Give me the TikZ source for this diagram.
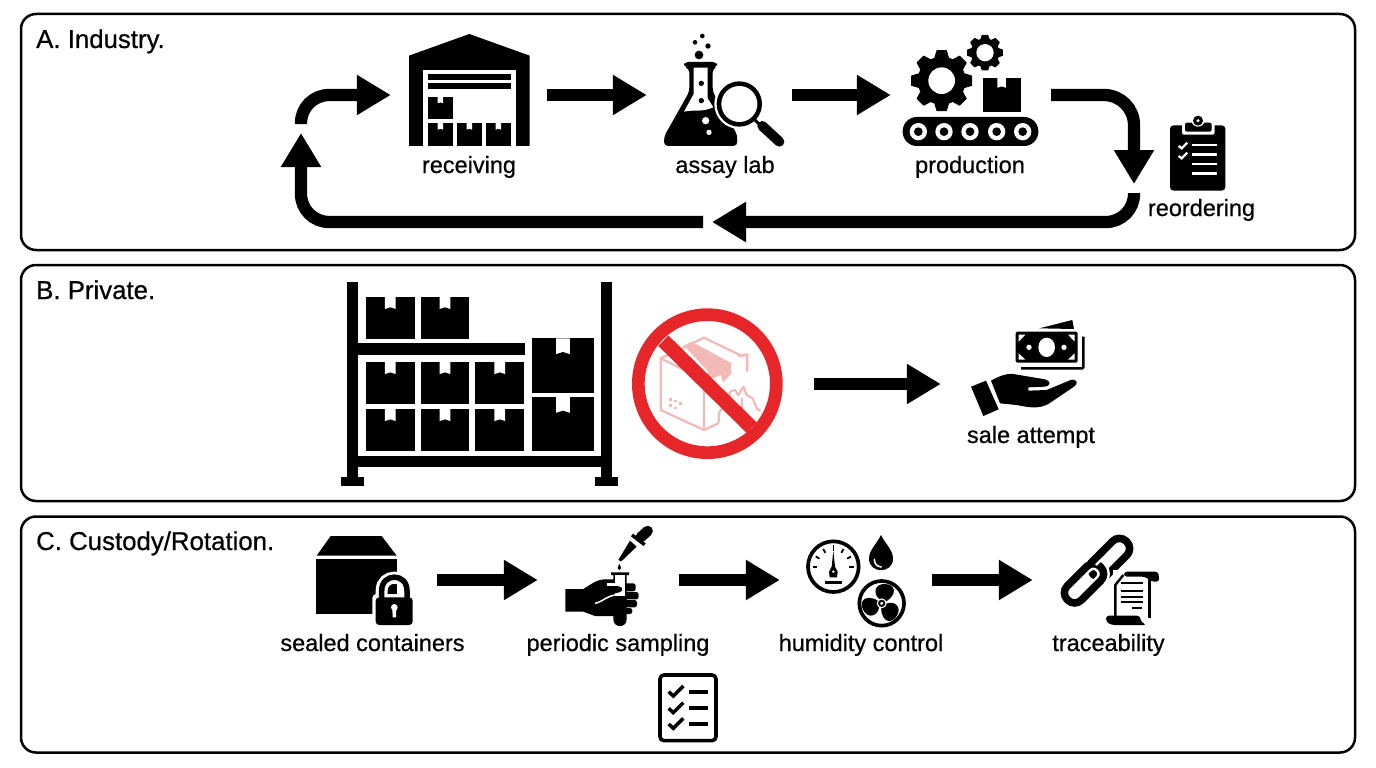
\documentclass[tikz,border=0pt]{standalone}
\usepackage{fontspec}
\setmainfont{Liberation Sans}[FakeBold=0.6]
\usetikzlibrary{arrows.meta}
\definecolor{ringred}{HTML}{E62628}
\definecolor{fadedbox}{HTML}{F3B9B6}
\tikzset{
  panel/.style={draw=black,line width=2.5pt,rounded corners=15pt,minimum width=1334pt,minimum height=236pt,inner sep=0pt},
  slot/.style={inner sep=0pt,minimum height=10pt},
  flow/.style={line width=12.3pt,-{Triangle[length=34pt,width=38pt]}},
  lbl/.style={anchor=base,inner sep=0pt,font=\fontsize{23.5}{27}\selectfont},
  ttl/.style={anchor=base west,inner sep=0pt,font=\fontsize{25.8}{28}\selectfont},
  zm/.style 2 args={x=.33333pt,y=-.33333pt,shift={(#1pt,-#2pt)}}
}
\newcommand\cartonbox[4]{%
  \pgfmathsetmacro\cbw{#3-#1}\pgfmathsetmacro\cbh{#4-#2}%
  \fill (#1,#2) rectangle (#3,#4);
  \fill[white] ({#1+.39*\cbw},#2) -- ({#1+.39*\cbw},{#2+.29*\cbh}) -- ({#1+.5*\cbw},{#2+.25*\cbh}) -- ({#1+.61*\cbw},{#2+.29*\cbh}) -- ({#1+.61*\cbw},#2) -- cycle;
}
\newcommand\gearic[5]{%
  \fill (#1,#2) circle[radius=#4];
  \foreach \a in {0,45,...,315}{
    \fill[shift={(#1,#2)},rotate=\a,line join=round,draw=black,line width=1pt]
      ({-.22*#3},{-#4*.95}) -- ({-.15*#3},{-#3+3}) -- ({.15*#3},{-#3+3}) -- ({.22*#3},{-#4*.95}) -- cycle;
  }
  \fill[white] (#1,#2) circle[radius=#5];
}
\begin{document}
\begin{tikzpicture}[x=1pt,y=-1pt]
\useasboundingbox (0,0) rectangle (1376,768);
\fill[white] (0,0) rectangle (1376,768);

% panels
\node[panel] (pA) at (688,132) {};
\node[panel] (pB) at (688,383) {};
\node[panel] (pC) at (688,634.5) {};
\node[ttl] (tA) at (36,48) {A. Industry.};
\node[ttl] (tB) at (36,299) {B. Private.};
\node[ttl] (tC) at (36,550) {C. Custody/Rotation.};

% anchor slots for the connectors
\node[slot,minimum width=156pt] (recv) at (469,95) {};
\node[slot,minimum width=145pt] (assay) at (719.5,95) {};
\node[slot,minimum width=160pt] (prod) at (971,95) {};
\node[slot,minimum width=214pt] (nosale) at (707,384) {};
\node[slot,minimum width=178pt] (sale) at (1030,384) {};
\node[slot,minimum width=148pt] (sealed) at (363,580) {};
\node[slot,minimum width=141pt] (sampl) at (608.5,580) {};
\node[slot,minimum width=152pt] (humid) at (856,580) {};
\node[slot,minimum width=150pt] (trace) at (1108,580) {};
\coordinate (bendA) at (1134,95);
\coordinate (reordIn) at (1134,184);
\coordinate (reordOut) at (1134,193);
\coordinate (bendB) at (1134,222);
\coordinate (midTip) at (712,222);
\coordinate (midTail) at (703,222);
\coordinate (bendC) at (301,222);
\coordinate (upTip) at (301,133);
\coordinate (upTail) at (301,124);
\coordinate (bendD) at (301,95);

% connectors
\draw[flow] (recv.east) -- (assay.west);
\draw[flow] (assay.east) -- (prod.west);
\draw[flow,rounded corners=30pt] (prod.east) -- (bendA) -- (reordIn);
\draw[flow,rounded corners=28pt] (reordOut) -- (bendB) -- (midTip);
\draw[flow,rounded corners=28pt] (midTail) -- (bendC) -- (upTip);
\draw[flow,rounded corners=28pt] (upTail) -- (bendD) -- (recv.west);
\draw[flow] (nosale.east) -- (sale.west);
\draw[flow] (sealed.east) -- (sampl.west);
\draw[flow] (sampl.east) -- (humid.west);
\draw[flow] (humid.east) -- (trace.west);

% labels
\node[lbl] (lrecv) at (469,173) {receiving};
\node[lbl] (lassay) at (725,173) {assay lab};
\node[lbl] (lprod) at (970,173) {production};
\node[lbl] (lreord) at (1201.5,216) {reordering};
\node[lbl] (lsale) at (1031,443) {sale attempt};
\node[lbl] (lseal) at (372.5,651) {sealed containers};
\node[lbl] (lsamp) at (618,651) {periodic sampling};
\node[lbl] (lhum) at (861,651) {humidity control};
\node[lbl] (ltrace) at (1108.5,651) {traceability};

% warehouse + flask + magnifier
\begin{scope}[zm={280}{20}]
  \fill (387,107) -- (568,42) -- (749,107) -- (749,378) -- (387,378) -- cycle;
  \fill[white] (429,150) rectangle (707,378);
  \fill (443,163) rectangle (693,179);
  \fill (443,190) rectangle (693,207);
  \cartonbox{443}{230}{519}{298}
  \cartonbox{443}{309}{519}{378}
  \cartonbox{530}{309}{606}{378}
  \cartonbox{617}{309}{693}{378}
  % flask
  \fill[rounded corners=4pt] (1212,126) -- (1311,126) -- (1311,140) -- (1298,146) -- (1298,215) -- (1372,345) -- (1372,378) -- (1152,378) -- (1152,350) -- (1228,215) -- (1228,146) -- (1212,140) -- cycle;
  \fill[white] (1241,143) -- (1283,143) -- (1283,235) -- (1300,262) .. controls (1265,278) and (1240,268) .. (1212,275) -- (1241,222) -- cycle;
  \fill (1264,190) circle[radius=8];
  \fill (1264,242) circle[radius=8];
  \fill[white] (1277,302) circle[radius=11];
  \fill[white] (1287,337) circle[radius=8];
  \fill (1257,105) circle[radius=13];
  \fill (1267,48) circle[radius=7];
  \fill (1245,67) circle[radius=7];
  \fill (1284,78) circle[radius=8];
  % magnifier
  \fill[white] (1378,252) circle[radius=75];
  \fill[white] (1378,252) -- (1460,345) -- (1430,378) -- (1372,378) -- cycle;
  \fill (1378,252) circle[radius=68];
  \fill[white] (1378,252) circle[radius=54];
  \draw[line width=3pt] (1425,300) -- (1445,320);
  \draw[line width=10pt,line cap=round] (1447,318) -- (1498,365);
\end{scope}

% gears, conveyor, clipboard
\begin{scope}[zm={780}{20}]
  \gearic{485}{182}{93}{72}{40}
  \gearic{615}{98}{55}{43}{26}
  \cartonbox{608}{173}{722}{277}
  \fill[rounded corners=14.2pt] (368,291) rectangle (775,378);
  \foreach \cx in {415,492,570,650,728}{
    \fill[white] (\cx,335) circle[radius=26];
    \fill (\cx,335) circle[radius=13];
  }
  \fill[rounded corners=3.5pt] (1170,316) rectangle (1336,512);
  \fill[white,rounded corners=2pt] (1206,298) rectangle (1304,344);
  \fill[rounded corners=2pt] (1215,308) rectangle (1295,335);
  \fill[white] (1254,300) circle[radius=20];
  \fill (1254,302) circle[radius=15];
  \fill[white] (1254,302) circle[radius=5];
  \foreach \ly in {375,403,432,461}{
    \draw[white,line width=2.7pt] (1237,\ly) -- (1312,\ly);
  }
  \foreach \ly in {378,408}{
    \draw[white,line width=2.3pt] (1196,\ly) -- (1205,{\ly+7}) -- (1222,{\ly-10});
  }
\end{scope}

% rack, no-sign
\begin{scope}[zm={330}{275}]
  \fill (52,22) rectangle (85,605);
  \fill (812,22) rectangle (846,605);
  \fill (32,605) rectangle (103,632);
  \fill (795,605) rectangle (864,632);
  \fill (85,542) rectangle (812,576);
  \fill (85,205) rectangle (585,239);
  \cartonbox{108}{65}{254}{192}
  \cartonbox{272}{65}{418}{192}
  \cartonbox{108}{260}{254}{388}
  \cartonbox{272}{260}{418}{388}
  \cartonbox{436}{260}{583}{388}
  \cartonbox{108}{401}{254}{529}
  \cartonbox{272}{401}{418}{529}
  \cartonbox{436}{401}{583}{529}
  \cartonbox{605}{190}{793}{353}
  \cartonbox{605}{366}{793}{529}
  % faded broken carton
  \begin{scope}[draw=fadedbox,line width=2.2pt,line join=round]
    \draw (1165,445) -- (1122,465) -- (992,405) -- (992,250) -- (1122,315) -- (1122,465);
    \draw (992,250) -- (1122,188) -- (1240,245);
    \fill[fadedbox] (1062,212) -- (1085,200) -- (1205,265) -- (1200,290) -- (1120,320) -- (1135,290) -- cycle;
    \fill[fadedbox] (1170,295) -- (1200,270) -- (1205,295) -- (1180,322) -- cycle;
    \draw (1225,243) -- (1252,238) -- (1252,290);
    \draw (1165,445) .. controls (1170,420) and (1160,415) .. (1178,400);
    \draw (1200,350) -- (1215,345) -- (1225,360) -- (1240,335) -- (1250,360) -- (1268,370) -- (1280,400) -- (1292,408);
    \draw (1235,370) -- (1235,410);
    \draw (1200,350) -- (1195,400);
    \foreach \bx/\by in {1016/370,1032/375,1048/382,1016/388,1032/395}{
      \fill[fadedbox] (\bx,\by) rectangle ({\bx+9},{\by+7});
    }
  \end{scope}
  \draw[ringred,line width=12.7pt] (1132,326) circle[radius=207];
  \draw[ringred,line width=14.5pt] (1000,197) -- (1265,458);
\end{scope}

% hand with money
\begin{scope}[zm={950}{310}]
  \fill (268,55) -- (367,30) -- (372,57) -- cycle;
  \draw[line width=2.4pt,rounded corners=1pt] (213,175) -- (400,175) -- (400,80);
  \fill[rounded corners=2pt] (197,65) rectangle (383,158);
  \fill[white] (290,112) ellipse[x radius=25,y radius=29];
  \fill[white] (237,112) circle[radius=8];
  \fill[white] (342,112) circle[radius=8];
  \fill[white] (206,74) -- (226,74) -- (206,95) -- cycle;
  \fill[white] (374,74) -- (354,74) -- (374,95) -- cycle;
  \fill[white] (206,149) -- (226,149) -- (206,130) -- cycle;
  \fill[white] (374,149) -- (354,149) -- (374,130) -- cycle;
  \fill (63,230) -- (108,212) -- (146,298) -- (100,318) -- cycle;
  \fill[line join=round] (123,212) .. controls (145,200) and (165,190) .. (190,192) -- (285,208) .. controls (303,212) and (303,228) .. (285,230) -- (235,232) -- (235,242) -- (290,240) -- (362,210) .. controls (382,205) and (386,222) .. (372,230) -- (295,282) .. controls (265,298) and (235,292) .. (200,285) -- (150,280) -- cycle;
\end{scope}

% container, lock, test tube, checklist
\begin{scope}[zm={290}{520}]
  \fill (80,107) -- (122,48) -- (275,48) -- (320,107) -- cycle;
  \fill (77,118) rectangle (322,283);
  \draw[white,line width=12pt] (275,240) -- (275,212) .. controls (275,160) and (351,160) .. (351,212) -- (351,240);
  \fill[white,rounded corners=4pt] (247,222) rectangle (378,325);
  \draw[line width=5.5pt] (275,240) -- (275,212) .. controls (275,158) and (351,158) .. (351,212) -- (351,240);
  \fill[rounded corners=3.5pt] (257,232) rectangle (368,315);
  \fill[white] (313,262) circle[radius=10];
  \fill[white] (307,265) -- (319,265) -- (318,292) -- (308,292) -- cycle;
  % hand
  \fill (826,207) -- (880,207) .. controls (900,195) and (920,178) .. (945,178) -- (975,178) -- (975,288) -- (915,288) -- (880,275) -- (826,275) -- cycle;
  \foreach \fya/\fyb/\fx in {190/214/1037,216/238/1046,240/262/1041,264/282/1027}{
    \fill[rounded corners=2.5pt] (1000,\fya) rectangle (\fx,\fyb);
  }
  \fill (1004,165) -- (1017,165) -- (1017,157) -- (963,157) -- (963,165) -- (970,165) -- (970,298) .. controls (970,325) and (1010,325) .. (1010,298) -- (1010,165) -- cycle;
  \fill[white] (976,165) rectangle (1004,228);
  \fill[white] (950,190) rectangle (976,200);
  \fill[rounded corners=3pt] (930,198) -- (990,198) -- (1000,208) -- (990,218) -- (945,222) -- (925,232) -- cycle;
  \draw[white,line width=1.5pt] (985,224) .. controls (950,226) and (940,245) .. (915,250);
  % dropper
  \fill (988,132) .. controls (982,142) and (980,150) .. (988,150) .. controls (996,150) and (994,142) .. (988,132) -- cycle;
  \fill (985,120) -- (1020,62) -- (1040,80) -- (994,124) -- cycle;
  \draw[line width=3.5pt] (1026,45) -- (1064,74);
  \draw[line width=10.5pt,line cap=round] (1052,52) -- (1073,33);
  % checklist
  \draw[line width=3.6pt,rounded corners=4pt] (1110,465) rectangle (1278,662);
  \foreach \ly in {515,565,612}{
    \draw[line width=4pt] (1197,\ly) -- (1253,\ly);
    \draw[line width=3.5pt] (1136,\ly) -- (1150,{\ly+13}) -- (1180,{\ly-17});
  }
\end{scope}

% gauge, drop, fan, chain, scroll
\begin{scope}[zm={770}{520}]
  \draw[line width=3.7pt] (190,140) circle[radius=76];
  \foreach \a in {0,30,60,120,150,180}{
    \draw[line width=1.8pt] ([shift={(190,140)}]-\a:48) -- ([shift={(190,140)}]-\a:61);
  }
  \draw[line width=1pt] (190,75) -- (190,92);
  \fill (190,92) -- (195,140) -- (203,155) -- (201,172) -- (179,172) -- (177,155) -- (185,140) -- cycle;
  \fill[white] (190,155) circle[radius=4];
  \fill (165,183) rectangle (215,192);
  % drop
  \fill (333,45) .. controls (320,72) and (297,90) .. (297,116) .. controls (297,162) and (369,162) .. (369,116) .. controls (369,90) and (346,72) .. (333,45) -- cycle;
  \draw[white,line width=1.5pt,line cap=round] (313,118) .. controls (313,132) and (322,140) .. (334,141);
  % fan
  \draw[line width=3.7pt] (335,250) circle[radius=67];
  \foreach \a in {0,120,240}{
    \fill[shift={(335,250)},rotate=\a] (-6,-12) .. controls (-28,-30) and (-20,-58) .. (8,-58) .. controls (42,-58) and (48,-28) .. (14,-6) -- cycle;
  }
  \fill[white] (335,250) circle[radius=15];
  \fill (335,250) circle[radius=11];
  \fill[white] (335,250) circle[radius=5];
  % chain: upper link, lower link over it, then one strand of the upper link back on top
  \begin{scope}[shift={(1020,114)},rotate=45]
    \draw[line width=7.5pt,rounded corners=9.5pt] (-70,-30) rectangle (70,30);
  \end{scope}
  \begin{scope}[shift={(942,190)},rotate=45]
    \draw[white,line width=12.5pt,rounded corners=9.5pt] (-70,-30) rectangle (70,30);
    \draw[line width=7.5pt,rounded corners=9.5pt] (-70,-30) rectangle (70,30);
  \end{scope}
  \begin{scope}[shift={(1020,114)},rotate=45]
    \draw[white,line width=12.5pt] (-45,-30) -- (-10,-30);
    \draw[line width=7.5pt] (-52,-30) -- (-3,-30);
  \end{scope}
  % scroll
  \fill[white] (1030,150) rectangle (1170,320);
  \fill[rounded corners=3pt] (1062,155) -- (1165,155) -- (1168,185) -- (1145,185) -- (1125,170) -- (1062,170) -- cycle;
  \draw[line width=2.4pt] (1060,165) -- (1036,195) -- (1036,290);
  \draw[line width=2.4pt] (1138,170) -- (1138,295);
  \fill[rounded corners=3pt] (1008,287) -- (1110,287) -- (1112,305) -- (1130,315) -- (1025,315) -- (1008,305) -- cycle;
  \foreach \ly in {190,212,230,247}{
    \draw[line width=1.7pt] (1052,\ly) -- (1120,\ly);
  }
  \draw[line width=1.7pt] (1087,265) -- (1115,265);
\end{scope}
\end{tikzpicture}
\end{document}
